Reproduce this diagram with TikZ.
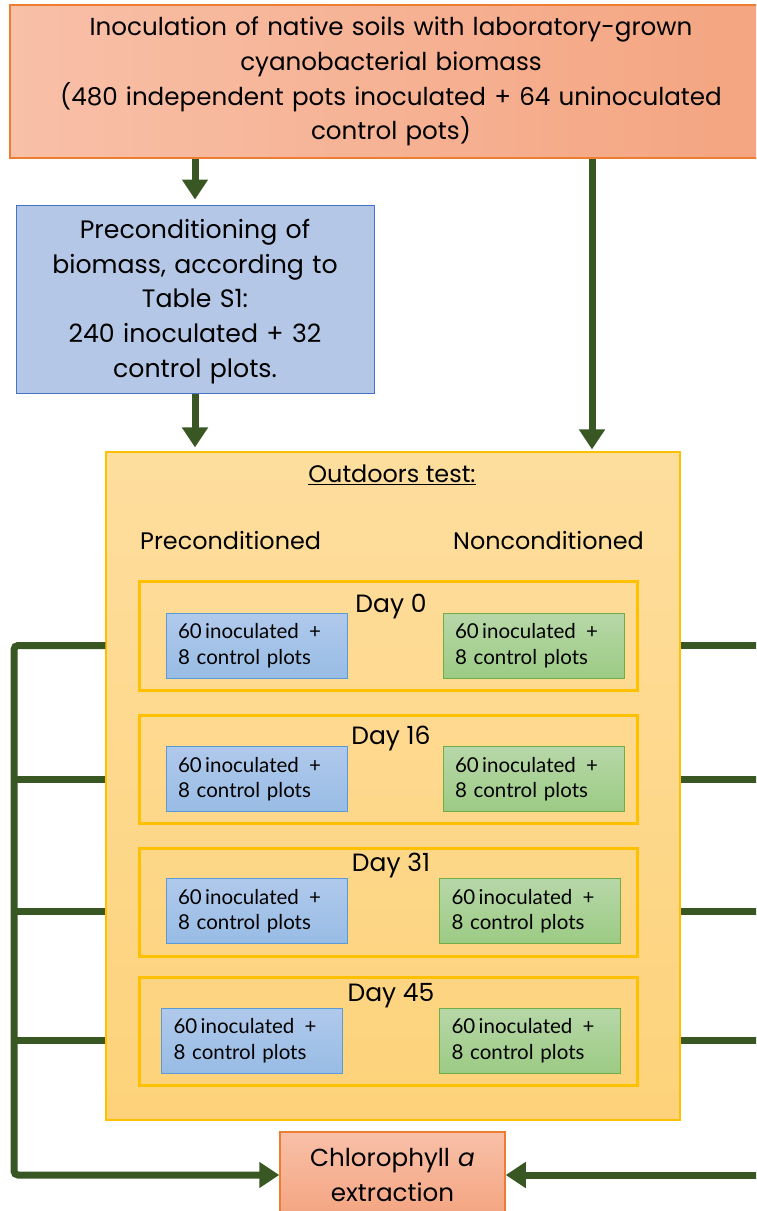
\documentclass[tikz,border=0pt]{standalone}
\usepackage{fontspec}
\setmainfont{Lato}
\newfontfamily\bigf{Poppins}
\usetikzlibrary{arrows.meta}
\definecolor{lg}{RGB}{56,87,35}
\definecolor{orb}{RGB}{237,125,49}
\definecolor{salL}{RGB}{248,192,168}
\definecolor{salR}{RGB}{244,164,128}
\definecolor{bluefill}{RGB}{180,199,231}
\definecolor{blueline}{RGB}{68,114,196}
\definecolor{sbT}{RGB}{176,201,235}
\definecolor{sbB}{RGB}{152,188,229}
\definecolor{sbline}{RGB}{91,155,213}
\definecolor{sgT}{RGB}{183,215,168}
\definecolor{sgB}{RGB}{156,203,132}
\definecolor{sgline}{RGB}{112,173,71}
\definecolor{ylline}{RGB}{255,192,0}
\definecolor{ylT}{RGB}{254,222,158}
\definecolor{ylB}{RGB}{253,210,122}
\tikzset{
  arr/.style={draw=lg, line width=7pt, -{Triangle[width=25pt,length=20pt]}},
  conn/.style={draw=lg, line width=7pt},
  bigtxt/.style={font=\bigf\fontsize{24.6}{34.6}\selectfont},
  bluetxt/.style={font=\bigf\fontsize{25.2}{34.8}\selectfont},
  smallbox/.style={minimum width=181pt, minimum height=65pt, inner sep=0pt,
    text width=157pt, align=left, line width=1pt, font=\fontsize{20.5}{25.5}\selectfont},
  bluesmall/.style={smallbox, draw=sbline, top color=sbT, bottom color=sbB},
  greensmall/.style={smallbox, draw=sgline, top color=sgT, bottom color=sgB},
  daybox/.style={draw=ylline, line width=3pt, minimum width=498pt, inner sep=0pt},
  lbl/.style={font=\bigf\fontsize{23.9}{28}\selectfont, inner sep=0pt},
  daylbl/.style={font=\bigf\fontsize{25}{28}\selectfont, inner sep=0pt},
}
\begin{document}
\begin{tikzpicture}[x=1pt,y=-1pt]
\useasboundingbox (0,0) rectangle (756,1211);
\clip (0,0) rectangle (756,1211);

\node[bigtxt, draw=orb, line width=1.5pt, left color=salL, right color=salR,
  minimum width=762pt, minimum height=153pt, inner sep=0pt, text width=740pt, align=center]
  (top) at (391,81.5) {Inoculation of native soils with laboratory-grown\\cyanobacterial biomass\\(480 independent pots inoculated + 64 uninoculated\\control pots)};

\node[draw=blueline, line width=1pt, fill=bluefill,
  minimum width=358pt, minimum height=188pt, inner sep=0pt] (pre) at (195,299) {};
\node[bluetxt, inner sep=0pt, text width=350pt, align=center] (pretxt) at (195,301.5)
  {Preconditioning of\\biomass, according to\\Table S1:\\240 inoculated + 32\\control plots.};

\node[draw=ylline, line width=1.2pt, top color=ylT, bottom color=ylB,
  minimum width=574pt, minimum height=668pt, inner sep=0pt] (out) at (393,786) {};

\node[lbl] (otitle) at (392,474.5) {\underline{Outdoors test:}};
\node[lbl, anchor=west] (plab) at (140,540.5) {Preconditioned};
\node[lbl, anchor=west] (nlab) at (453,540.5) {Nonconditioned};

\node[daybox, minimum height=109pt] (d0) at (388,635.5) {};
\node[daybox, minimum height=108pt] (d1) at (388,769) {};
\node[daybox, minimum height=108pt] (d2) at (388,902) {};
\node[daybox, minimum height=108pt] (d3) at (388,1031) {};

\node[daylbl] (l0) at (391,607) {Day 0};
\node[daylbl] (l1) at (391,738) {Day 16};
\node[daylbl] (l2) at (391,866) {Day 31};
\node[daylbl] (l3) at (391,996) {Day 45};

\node[bluesmall] (b0) at (256.5,645.5) {60\,inoculated\enspace+\\8 control plots};
\node[bluesmall] (b1) at (256.5,779) {60\,inoculated\enspace+\\8 control plots};
\node[bluesmall] (b2) at (256.5,911) {60\,inoculated\enspace+\\8 control plots};
\node[bluesmall] (b3) at (252,1040.5) {60\,inoculated\enspace+\\8 control plots};
\node[greensmall] (g0) at (533.5,645.5) {60\,inoculated\enspace+\\8 control plots};
\node[greensmall] (g1) at (533.5,779) {60\,inoculated\enspace+\\8 control plots};
\node[greensmall] (g2) at (530,911) {60\,inoculated\enspace+\\8 control plots};
\node[greensmall] (g3) at (530,1040.5) {60\,inoculated\enspace+\\8 control plots};

\node[bigtxt, draw=orb, line width=1.5pt, top color=salL, bottom color=salR,
  minimum width=225pt, minimum height=86pt, inner sep=0pt, text width=220pt, align=center]
  (chl) at (392.5,1175) {Chlorophyll \textit{a}\\extraction};

\coordinate (lx) at (14,0);
\coordinate (rx) at (775,0);
\coordinate (tx) at (592,0);

\draw[arr, shorten >=5pt] (top.south -| pre.north) -- (pre.north);
\draw[arr, shorten >=2pt] (top.south -| tx) -- (out.north -| tx);
\draw[arr, shorten >=4pt] (pre.south) -- (out.north -| pre.south);

\draw[arr, rounded corners=4pt] (out.west |- b0) -- (lx |- b0) -- (lx |- chl.west) -- (chl.west);
\draw[conn] (out.west |- b1) -- (lx |- b1);
\draw[conn] (out.west |- b2) -- (lx |- b2);
\draw[conn] (out.west |- b3) -- (lx |- b3);

\draw[arr] (out.east |- g0) -- (rx |- g0) -- (rx |- chl.east) -- (chl.east);
\draw[conn] (out.east |- g1) -- (rx |- g1);
\draw[conn] (out.east |- g2) -- (rx |- g2);
\draw[conn] (out.east |- g3) -- (rx |- g3);
\end{tikzpicture}
\end{document}
